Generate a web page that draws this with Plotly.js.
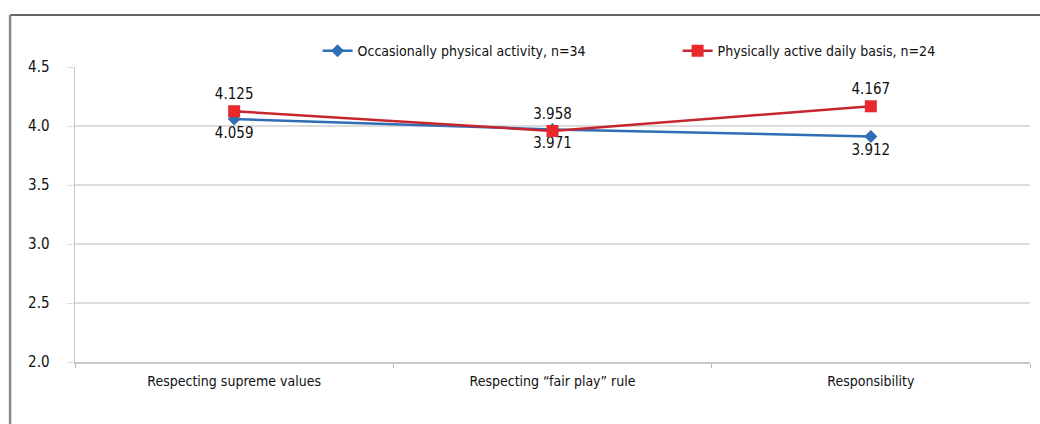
<!DOCTYPE html>
<html>
<head>
<meta charset="utf-8">
<script src="https://cdn.plot.ly/plotly-3.0.1.min.js"></script>
<style>html,body{margin:0;padding:0;background:#fff;}#chart{width:1040px;height:424px;}</style>
</head>
<body>
<div id="chart"></div>
<script>
const categories = ["Respecting supreme values", "Respecting \u201cfair play\u201d rule", "Responsibility"];
const occasionalName = "Occasionally physical activity, n=34";
const occasionalValues = [4.059, 3.971, 3.912];
const dailyName = "Physically active daily basis, n=24";
const dailyValues = [4.125, 3.958, 4.167];
const yTicks = [2.0, 2.5, 3.0, 3.5, 4.0, 4.5];

const FONT = '"Liberation Sans Narrow", "DejaVu Sans Condensed", "Arial Narrow", sans-serif';
const FS = 14;

const traces = [
  {
    x: categories, y: occasionalValues, name: occasionalName, legend: 'legend',
    type: 'scatter', mode: 'lines+markers+text',
    text: occasionalValues.map(v => v.toFixed(3)),
    textposition: 'bottom center',
    textfont: {family: FONT, size: 15, color: '#111'},
    line: {color: '#2f6db5', width: 2.5},
    marker: {symbol: 'diamond', size: 10, color: '#2f6db5'}
  },
  {
    x: categories, y: dailyValues, name: dailyName, legend: 'legend2',
    type: 'scatter', mode: 'lines+markers+text',
    text: dailyValues.map(v => v.toFixed(3)),
    textposition: 'top center',
    textfont: {family: FONT, size: 15, color: '#111'},
    line: {color: '#c8262e', width: 2.5},
    marker: {symbol: 'square', size: 12, color: '#e8282b'}
  }
];

const legendBase = {
  orientation: 'h', xanchor: 'left', y: 1.054, yanchor: 'middle',
  font: {family: FONT, size: FS, color: '#111'},
  bgcolor: 'rgba(0,0,0,0)'
};

const layout = {
  width: 1040, height: 424,
  margin: {l: 75, r: 10, t: 67, b: 62},
  paper_bgcolor: '#fff', plot_bgcolor: '#fff',
  font: {family: FONT, size: FS, color: '#111'},
  showlegend: true,
  legend: Object.assign({}, legendBase, {x: 0.254}),
  legend2: Object.assign({}, legendBase, {x: 0.631}),
  xaxis: {
    type: 'category', range: [-0.5, 2.5],
    tickson: 'boundaries', ticks: 'outside', ticklen: 4, tickcolor: '#bbb',
    ticklabelstandoff: 6, tickangle: 0,
    showline: true, linecolor: '#c8c8c8', linewidth: 1.5,
    showgrid: false, zeroline: false,
    tickfont: {family: FONT, size: FS, color: '#111'}
  },
  yaxis: {
    range: [2.0, 4.5], tickvals: yTicks, ticktext: yTicks.map(v => v.toFixed(1)),
    ticks: 'outside', ticklen: 7, tickcolor: '#ddd', ticklabelstandoff: 14,
    showline: true, linecolor: '#c8c8c8', linewidth: 1.5,
    showgrid: true, gridcolor: '#dcdcdc', gridwidth: 1.5, zeroline: false,
    tickfont: {family: FONT, size: 15, color: '#111'}
  },
  shapes: [
    {type: 'line', xref: 'paper', yref: 'paper', x0: -0.068, x1: 1.02, y0: 1.176, y1: 1.176,
     line: {color: '#333', width: 1.5}},
    {type: 'line', xref: 'paper', yref: 'paper', x0: -0.068, x1: -0.068, y0: 1.176, y1: -0.25,
     line: {color: '#888', width: 2.5}}
  ]
};

Plotly.newPlot('chart', traces, layout, {displayModeBar: false, staticPlot: true});
</script>
</body>
</html>
